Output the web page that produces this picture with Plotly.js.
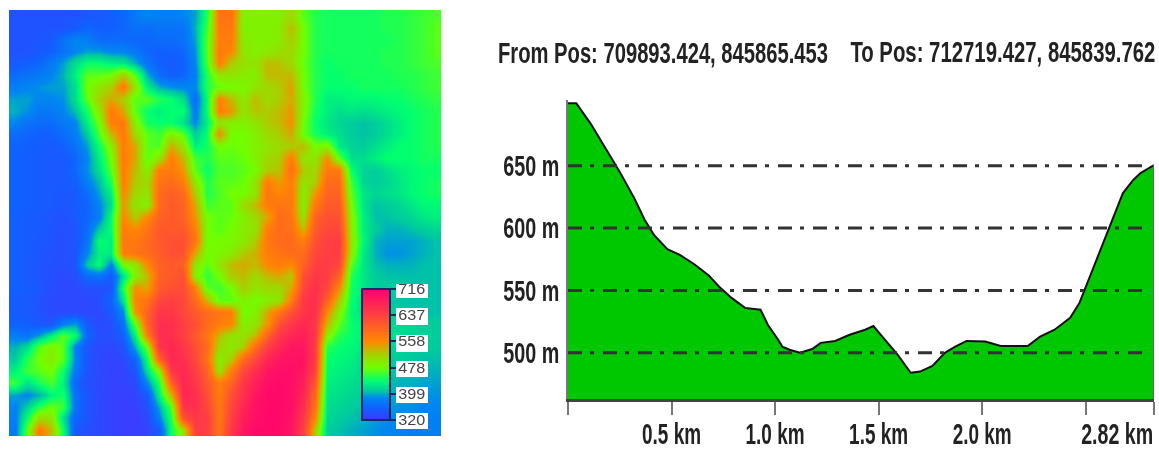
<!DOCTYPE html>
<html><head><meta charset="utf-8">
<script src="https://cdn.plot.ly/plotly-3.0.1.min.js"></script>
<style>html,body{margin:0;padding:0;background:#fff}#g{width:1159px;height:449px;filter:blur(0.5px)}</style>
</head><body><div id="g"></div>
<script>
const demRows = [
[345,345,345,345,345,345,350,350,355,360,375,385,380,380,385,395,450,580,580,490,490,490,490,510,470,450,445,445,445,445,445,450,450,455,460,465],
[345,345,345,345,345,350,360,355,355,360,370,365,370,370,370,400,460,575,575,490,490,490,495,530,480,450,445,445,445,445,445,450,450,455,460,470],
[345,345,345,350,370,385,380,365,365,365,360,360,365,365,370,395,470,570,570,495,490,490,495,520,480,450,445,445,445,445,445,445,450,455,460,470],
[345,345,350,355,370,385,395,395,385,385,375,360,355,355,360,390,470,575,560,500,490,495,505,510,480,450,445,445,445,445,445,450,450,455,460,470],
[350,355,360,375,395,420,440,440,430,425,400,370,355,350,355,385,465,570,520,505,500,530,525,510,475,450,440,445,445,445,445,450,450,455,460,465],
[365,370,375,385,400,430,470,470,480,520,470,400,365,355,360,380,450,500,500,495,490,530,530,530,480,450,440,440,445,445,445,445,450,450,455,460],
[380,385,390,395,395,420,480,500,520,575,500,430,400,390,385,385,450,475,480,485,500,510,520,545,480,450,440,440,440,445,445,445,445,450,455,460],
[395,395,385,385,390,420,470,520,540,520,470,470,450,440,420,365,440,565,530,495,530,510,520,540,490,450,430,430,435,435,435,440,440,445,450,455],
[400,390,375,375,385,405,445,500,575,540,470,440,430,440,440,375,440,570,550,500,525,520,530,550,485,445,430,420,425,420,425,430,435,440,445,450],
[385,370,365,365,375,385,430,480,570,575,490,445,440,440,420,385,430,500,490,490,500,520,530,555,480,440,425,415,410,405,410,420,430,440,445,450],
[365,360,355,355,365,380,410,465,530,575,510,470,460,490,470,410,440,560,480,480,490,510,520,540,475,445,430,420,410,405,410,420,430,440,445,450],
[358,355,352,350,355,370,395,440,495,570,540,470,465,540,500,430,445,480,475,480,490,500,510,520,530,480,490,425,415,410,420,430,440,440,445,450],
[356,354,352,350,350,360,385,430,480,575,540,470,500,570,530,460,450,470,470,475,490,510,520,570,500,500,555,470,420,420,430,440,440,440,445,445],
[356,354,352,350,350,360,390,420,470,570,530,490,570,575,550,470,440,465,465,470,480,520,525,585,520,510,575,575,440,415,410,420,430,435,440,440],
[356,354,352,350,350,355,380,405,450,570,520,510,580,590,570,500,450,470,470,475,500,570,545,570,500,520,590,590,460,415,410,415,425,435,440,445],
[356,354,352,350,348,350,365,395,430,560,510,500,590,605,590,520,450,465,480,480,500,580,560,575,490,550,600,600,470,425,415,420,425,435,440,445],
[356,354,352,350,346,350,360,385,420,550,500,490,590,610,600,540,460,470,470,510,530,570,580,575,490,575,610,610,480,425,405,410,415,425,435,435],
[355,352,350,345,342,350,360,380,440,560,520,560,600,610,600,550,480,470,475,490,510,540,590,580,500,600,620,620,490,430,405,405,410,415,425,430],
[355,352,350,345,340,345,365,410,440,570,560,580,610,610,610,570,480,470,480,495,500,570,590,585,530,610,630,630,495,430,410,400,400,405,410,415],
[355,352,348,345,340,345,370,440,430,575,575,590,610,620,620,580,480,480,485,495,520,575,590,590,570,620,640,640,500,435,400,395,395,395,400,405],
[355,352,346,342,340,345,385,430,430,570,580,590,605,620,620,540,480,485,495,520,535,570,580,590,590,630,640,640,495,425,400,390,390,395,400,405],
[355,350,345,342,340,345,410,440,380,480,500,560,600,610,600,500,470,500,530,540,530,560,570,560,600,640,645,630,470,425,405,400,400,400,405,405],
[355,350,345,340,335,340,365,370,350,420,490,530,600,610,620,490,455,480,520,530,510,530,540,520,620,650,640,600,450,425,410,405,405,405,405,405],
[355,352,348,338,335,335,340,340,345,450,555,540,610,620,625,570,470,460,480,520,500,510,510,540,630,660,630,560,445,425,410,410,410,405,405,405],
[352,350,344,336,335,335,335,340,360,420,565,580,630,640,630,590,530,470,470,490,480,490,500,570,650,660,600,520,440,420,410,410,405,405,405,405],
[352,350,344,336,335,335,335,335,350,385,550,600,650,650,630,610,590,580,570,480,490,540,580,620,650,660,560,490,435,420,415,410,410,405,405,405],
[358,354,348,346,380,395,350,335,340,370,470,600,660,660,640,620,590,570,560,490,500,550,620,650,670,650,530,470,440,430,425,420,415,415,410,410],
[380,370,395,430,470,440,360,340,340,355,430,570,660,660,640,610,580,530,500,500,530,600,650,670,680,650,490,450,440,430,425,420,420,415,415,410],
[400,420,470,490,470,380,345,335,335,340,400,480,650,670,650,620,590,510,495,520,590,640,670,690,690,640,450,440,435,425,420,415,415,410,410,408],
[410,450,480,495,470,385,345,335,330,335,360,440,600,670,660,630,580,490,520,590,630,670,690,695,695,640,440,435,430,420,415,410,410,408,405,405],
[430,460,470,480,440,375,345,335,330,330,345,420,490,650,670,640,600,500,570,630,660,690,700,700,690,630,435,430,425,415,415,410,405,405,400,400],
[460,420,445,465,430,360,340,335,330,330,335,385,450,600,670,650,610,570,600,650,680,700,705,700,680,610,430,425,420,415,410,405,400,400,395,395],
[395,385,400,430,445,370,345,335,330,328,330,350,430,530,670,660,620,570,620,660,690,705,705,700,670,590,425,420,415,410,405,400,395,395,390,390],
[385,410,450,475,460,370,345,335,330,325,328,340,400,470,650,660,630,575,630,670,695,705,705,700,660,580,420,415,410,405,400,395,390,390,385,385],
[380,440,510,500,420,360,345,335,330,325,325,335,380,450,620,650,640,575,640,680,700,705,705,695,650,560,415,410,405,400,395,390,385,385,380,380],
[375,470,575,530,440,350,340,335,330,325,325,330,350,440,500,640,640,580,650,690,705,705,705,690,640,520,410,405,400,395,390,385,382,380,380,380]
];
const legendTicks = [320,399,478,558,637,716];
const legendLabels = ['320','399','478','558','637','716'];
const distanceKm = [0,0.04,0.11,0.18,0.25,0.32,0.37,0.415,0.48,0.54,0.61,0.68,0.73,0.79,0.855,0.93,0.965,1.015,1.035,1.07,1.12,1.18,1.22,1.29,1.36,1.435,1.475,1.53,1.59,1.655,1.70,1.76,1.82,1.87,1.925,2.015,2.09,2.22,2.28,2.35,2.425,2.47,2.505,2.535,2.595,2.64,2.68,2.73,2.765,2.83];
const elevationM = [700,700,683.5,664,645,624,606.6,594.5,583,578.5,571,562,553,544,536,534.5,522.5,510.5,505,502.5,500,503,508,509.5,514.5,518.5,521.5,510.5,499,484,485,489.5,500,505,509.5,509,505.5,505.5,513,518.5,528,540,554.5,566.5,592,610.5,628,638.5,644,650.5];
const gridLevels = [500,550,600,650];
const gridLabels = ['500 m','550 m','600 m','650 m'];
const kmMarks = [0,0.5,1.0,1.5,2.0,2.5,2.83];
const kmLabelPos = [0.5,1.0,1.5,2.0,2.652];
const kmLabels = ['0.5 km','1.0 km','1.5 km','2.0 km','2.82 km'];
const fromText = 'From Pos: 709893.424, 845865.453';
const toText = 'To Pos: 712719.427, 845839.762';

const W = 1159, H = 449;
const sans = '"Liberation Sans",Arial,sans-serif';
const colors = [
 [0,'#4038ff'],[0.09,'#1060ff'],[0.17,'#0088f0'],[0.22,'#00c8a0'],[0.3,'#00ff70'],
 [0.4,'#70ff00'],[0.5,'#a8d000'],[0.6,'#ff8800'],[0.8,'#ff4040'],[1,'#ff0070']
];
const traces = [
 {type:'heatmap', z:demRows, xaxis:'x', yaxis:'y', zmin:320, zmax:716, zsmooth:'best', colorscale:colors, hoverinfo:'skip',
  colorbar:{x:362/W, xanchor:'left', y:(H-420)/H, yanchor:'bottom', lenmode:'pixels', len:131, thicknessmode:'pixels', thickness:28,
   xpad:0, ypad:0, outlinecolor:'#1a2a60', outlinewidth:2, tickmode:'array', tickvals:legendTicks, ticktext:legendLabels,
   ticks:'outside', ticklen:5, tickwidth:2, tickcolor:'#1a2a60', tickfont:{family:sans, size:14, color:'#444'}, bgcolor:'rgba(0,0,0,0)'}},
 {type:'scatter', mode:'lines', x:distanceKm, y:elevationM, xaxis:'x2', yaxis:'y2', fill:'tozeroy', fillcolor:'#00c800',
  line:{color:'#111', width:2}, hoverinfo:'skip', showlegend:false}
];
gridLevels.forEach(v => traces.push({type:'scatter', mode:'lines', x:[0,2.79], y:[v,v], xaxis:'x2', yaxis:'y2',
  line:{color:'#333', width:3, dash:'14px,8px,4px,9px'}, hoverinfo:'skip', showlegend:false}));
traces.push({type:'scatter', mode:'lines', x:[2.83,2.83], y:[463,650.5], xaxis:'x2', yaxis:'y2', line:{color:'#666', width:2}, hoverinfo:'skip', showlegend:false});

const labelBoxes = [[284,298],[308,325],[335,352],[361,377],[387,403],[413,429]].map(p => ({
  type:'rect', xref:'paper', yref:'paper', x0:396/W, x1:428/W, y0:1-p[1]/H, y1:1-p[0]/H, fillcolor:'#fff', line:{width:0}, layer:'above'}));
const headFont = {family:sans, size:30, color:'#222', weight:700};

Plotly.newPlot('g', traces, {
 width:W, height:H, margin:{l:0,r:0,t:0,b:0}, paper_bgcolor:'#fff', plot_bgcolor:'#fff', showlegend:false,
 title:{text:fromText, x:663/W, xref:'paper', xanchor:'center', y:1-52/H, yref:'paper', yanchor:'middle', font:headFont},
 annotations:[{text:toText, xref:'paper', yref:'paper', x:1002.5/W, y:1-52/H, xanchor:'center', yanchor:'middle', showarrow:false, font:headFont}],
 xaxis:{domain:[9/W,441/W], visible:false, range:[-0.5,35.5]},
 yaxis:{domain:[1-436/H,1-10/H], visible:false, range:[35.5,-0.5]},
 xaxis2:{domain:[568/W,1154/W], anchor:'y2', range:[0,2.83], tickmode:'array', tickvals:kmLabelPos, ticktext:kmLabels, showgrid:false, zeroline:false,
   showline:true, linecolor:'#444', linewidth:3, ticks:'outside', ticklen:7, tickwidth:0, tickcolor:'rgba(0,0,0,0)', tickangle:0, ticklabeloverflow:'allow',
   minor:{tickmode:'array', tickvals:kmMarks, ticks:'outside', ticklen:13, tickwidth:2, tickcolor:'#777', showgrid:false},
   tickfont:{family:sans, size:29, color:'#222', weight:700}},
 yaxis2:{domain:[1-399/H,1-100/H], anchor:'x2', range:[463,702.6], tickmode:'array', tickvals:gridLevels, ticktext:gridLabels, showgrid:false, zeroline:false,
   showline:true, linecolor:'#777', linewidth:2, ticks:'outside', ticklen:1, tickwidth:0, tickcolor:'rgba(0,0,0,0)',
   tickfont:{family:sans, size:29, color:'#222', weight:700}},
 shapes:labelBoxes
}, {displayModeBar:false, staticPlot:true}).then(gd => {
  const squeeze = (sel, len) => gd.querySelectorAll(sel).forEach(t => {
    const n = typeof len === 'function' ? len(t) : len;
    t.setAttribute('textLength', n);
    t.setAttribute('lengthAdjust', 'spacingAndGlyphs');
  });
  squeeze('.gtitle', 330);
  squeeze('.annotation-text', 305);
  squeeze('.x2tick text', t => t.textContent.length > 6 ? 72 : 59);
  squeeze('.y2tick text', 56);
  squeeze('.colorbar text', 27);
});
</script></body></html>
